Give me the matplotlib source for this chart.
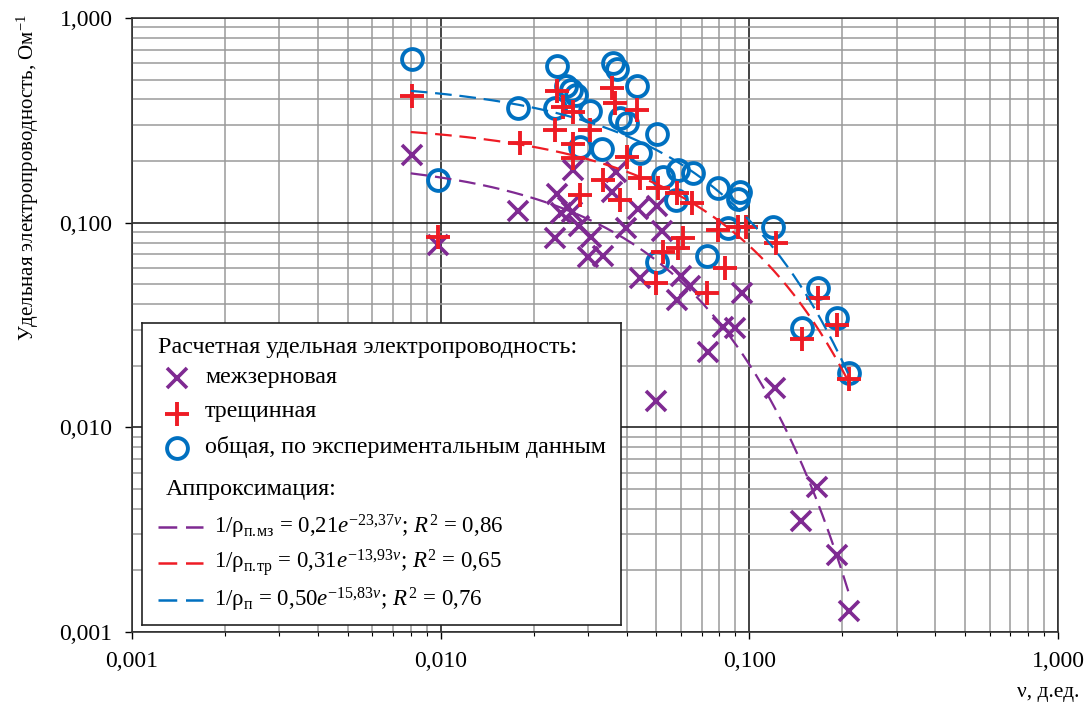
import numpy as np
import matplotlib
matplotlib.use("Agg")
import matplotlib.pyplot as plt
from matplotlib.ticker import FixedLocator, LogLocator, NullFormatter

plt.rcParams['font.family'] = ['Liberation Serif', 'DejaVu Serif']
plt.rcParams['mathtext.fontset'] = 'custom'
plt.rcParams['mathtext.rm'] = 'Liberation Serif'
plt.rcParams['mathtext.it'] = 'Liberation Serif:italic'
plt.rcParams['mathtext.bf'] = 'Liberation Serif:bold'

# общая проводимость (эксперимент)
v_total = [0.0081, 0.0178, 0.0098, 0.0238, 0.0235, 0.0255, 0.0264, 0.0274, 0.0305,
           0.0362, 0.0373, 0.0433, 0.0381, 0.0402, 0.0502, 0.0283, 0.0333, 0.0442,
           0.0525, 0.0587, 0.0657, 0.0579, 0.0792, 0.0933, 0.0921, 0.0853, 0.1193,
           0.0502, 0.0729, 0.1669, 0.1923, 0.1476, 0.2103]
g_total = [0.630, 0.363, 0.162, 0.583, 0.363, 0.465, 0.445, 0.420, 0.351,
           0.603, 0.563, 0.465, 0.325, 0.307, 0.271, 0.234, 0.229, 0.219,
           0.167, 0.181, 0.175, 0.129, 0.148, 0.141, 0.1305, 0.0942, 0.0953,
           0.0643, 0.0687, 0.0479, 0.0342, 0.0306, 0.0184]

# трещинная
v_crack = [0.0081, 0.0098, 0.0181, 0.0238, 0.0249, 0.0268, 0.0235, 0.0305, 0.0268,
           0.0268, 0.0359, 0.0367, 0.0433, 0.0402, 0.0336, 0.0283, 0.0381, 0.0442,
           0.0506, 0.0583, 0.0652, 0.0792, 0.0921, 0.0975, 0.0610, 0.0587, 0.0525,
           0.0498, 0.0834, 0.0729, 0.1220, 0.1669, 0.1923, 0.1476, 0.2103]
g_crack = [0.416, 0.0851, 0.245, 0.440, 0.367, 0.347, 0.284, 0.284, 0.242,
           0.207, 0.455, 0.384, 0.355, 0.209, 0.162, 0.137, 0.129, 0.165,
           0.148, 0.140, 0.1248, 0.0921, 0.0953, 0.0953, 0.0842, 0.0752, 0.0719,
           0.0507, 0.0601, 0.0453, 0.0796, 0.0428, 0.0316, 0.0270, 0.0172]

# межзерновая
v_grain = [0.0081, 0.0098, 0.0178, 0.0268, 0.0370, 0.0238, 0.0259, 0.0245, 0.0266,
           0.0281, 0.0235, 0.0307, 0.0300, 0.0336, 0.0359, 0.0399, 0.0436, 0.0502,
           0.0521, 0.0442, 0.0601, 0.0643, 0.0583, 0.0947, 0.0822, 0.0899, 0.0735,
           0.1211, 0.0498, 0.1657, 0.1470, 0.1923, 0.2103]
g_grain = [0.214, 0.0778, 0.114, 0.181, 0.177, 0.138, 0.1193, 0.1115, 0.1127,
           0.0963, 0.0842, 0.0851, 0.0680, 0.0687, 0.141, 0.0942, 0.1166, 0.1206,
           0.0911, 0.0537, 0.0549, 0.0490, 0.0419, 0.0453, 0.0309, 0.0306, 0.0233,
           0.0156, 0.0134, 0.00511, 0.00349, 0.00238, 0.00127]

# аппроксимация: 1/rho = a*exp(b*v)
fit_a = [0.21, 0.31, 0.50]
fit_b = [-23.37, -13.93, -15.83]
fit_v = [0.008, 0.21]

ticks = [0.001, 0.01, 0.1, 1.0]
tick_labels = ['0,001', '0,010', '0,100', '1,000']

c_grain = '#7F2A92'
c_crack = '#EE1C25'
c_total = '#0070C0'

W, H = 1087, 707
fig = plt.figure(figsize=(W / 100, H / 100), dpi=100)
ax = fig.add_axes([132 / W, 1 - 632 / H, 926 / W, 614 / H])
ax.set_xscale('log')
ax.set_yscale('log')
ax.set_xlim(0.001, 1)
ax.set_ylim(0.001, 1)

ax.grid(which='minor', color='#9a9a9a', lw=1.1)
ax.grid(which='major', color='#222222', lw=1.2)
ax.set_axisbelow(True)

ax.xaxis.set_major_locator(FixedLocator(ticks))
ax.yaxis.set_major_locator(FixedLocator(ticks))
ax.set_xticklabels(tick_labels)
ax.set_yticklabels(tick_labels)
for axis in (ax.xaxis, ax.yaxis):
    axis.set_minor_locator(LogLocator(base=10, subs=np.arange(2, 10)))
    axis.set_minor_formatter(NullFormatter())
ax.tick_params(which='major', direction='out', length=5, width=1, labelsize=17)
ax.tick_params(axis='x', which='major', pad=9)
ax.tick_params(axis='y', which='major', pad=9)
ax.tick_params(axis='x', which='minor', direction='out', length=3, width=0.8)
ax.tick_params(axis='y', which='minor', length=0)
for s in ax.spines.values():
    s.set_color('#333333')
    s.set_linewidth(1.2)

ax.plot(v_grain, g_grain, ls='none', marker='x', ms=15, mew=2.6, color=c_grain, zorder=3)
ax.plot(v_total, g_total, ls='none', marker='o', ms=15, mew=2.8, mfc='none', color=c_total, zorder=4)
ax.plot(v_crack, g_crack, ls='none', marker='+', ms=17, mew=2.8, color=c_crack, zorder=5)

vv = np.geomspace(fit_v[0], fit_v[1], 200)
for a, b, c in zip(fit_a, fit_b, [c_grain, c_crack, c_total]):
    ax.plot(vv, a * np.exp(b * vv), color=c, lw=1.6, dashes=(7.5, 3.5), zorder=6)

fig.text(28 / W, 1 - 14 / H, 'Удельная электропроводность, Ом$^{-1}$',
         rotation=90, ha='center', va='top', fontsize=15)
fig.text(1079 / W, 1 - 692 / H, 'ν, д.ед.', ha='right', va='center', fontsize=15.5)

# legend panel, local pixel coordinates
lx0, ly0, lx1, ly1 = 142, 323, 621, 625
leg = fig.add_axes([lx0 / W, 1 - ly1 / H, (lx1 - lx0) / W, (ly1 - ly0) / H], zorder=10)
leg.set_xlim(0, lx1 - lx0)
leg.set_ylim(ly1 - ly0, 0)
leg.set_xticks([])
leg.set_yticks([])
leg.set_facecolor('white')
for s in leg.spines.values():
    s.set_color('#222222')
    s.set_linewidth(1.2)

fs = 17.3
leg.text(16, 25, 'Расчетная удельная электропроводность:', va='center', fontsize=fs)
leg.plot([35], [55], marker='x', ms=15, mew=2.6, color=c_grain)
leg.text(63, 55, 'межзерновая', va='center', fontsize=fs)
leg.plot([35], [91], marker='+', ms=17, mew=2.8, color=c_crack)
leg.text(63, 89, 'трещинная', va='center', fontsize=fs)
leg.plot([35], [125], marker='o', ms=15, mew=2.8, mfc='none', color=c_total)
leg.text(63, 124, 'общая, по экспериментальным данным', va='center', fontsize=fs)
leg.text(24, 166, 'Аппроксимация:', va='center', fontsize=fs)

fit_text = [
    r'1/ρ$_{\mathrm{п.\!мз}}$ = 0,21$e^{−23{,}37ν}$; $R^2$ = 0,86',
    r'1/ρ$_{\mathrm{п.\!тр}}$ = 0,31$e^{−13{,}93ν}$; $R^2$ = 0,65',
    r'1/ρ$_{\mathrm{п}}$ = 0,50$e^{−15{,}83ν}$; $R^2$ = 0,76',
]
for y, c, t in zip([204, 240, 277], [c_grain, c_crack, c_total], fit_text):
    leg.plot([16, 61], [y, y], color=c, lw=1.8, dashes=(7.5, 3.5))
    leg.text(72, y, t, va='center', fontsize=16.5)

fig.savefig('out.png', dpi=100)
